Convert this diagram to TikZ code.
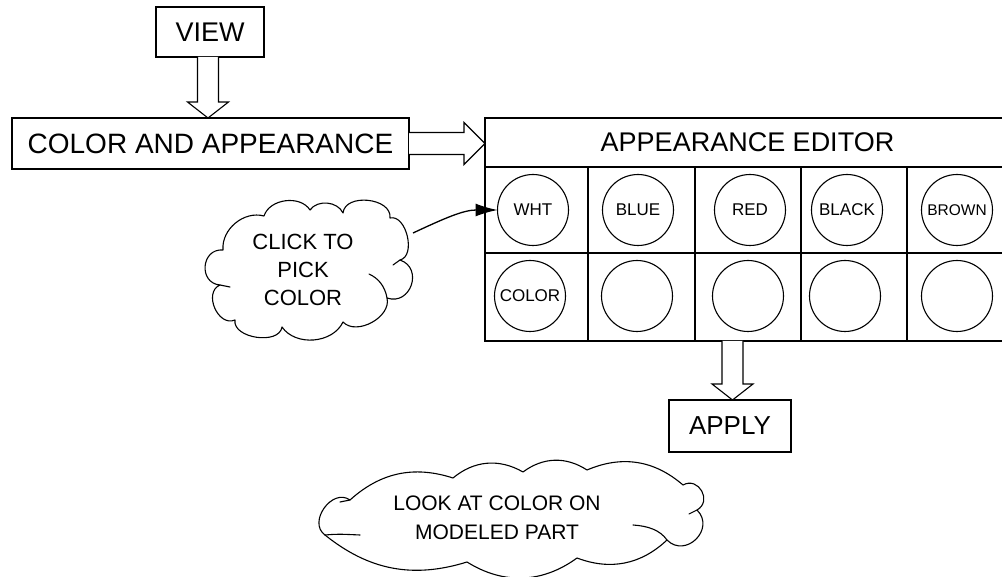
\documentclass[tikz,border=0pt]{standalone}
\usepackage{fontspec}
\setmainfont{Liberation Sans}
\usetikzlibrary{arrows.meta,calc}
\newcommand{\blkdown}[2]{%
  \draw[blk] let \p1=(#1), \p2=(#2) in
    (\x1-10.5pt,\y1) -- (\x1-10.5pt,\y2+16pt) -- (\x1-20.5pt,\y2+16pt) -- (\x1,\y2)
    -- (\x1+20.5pt,\y2+16pt) -- (\x1+10.5pt,\y2+16pt) -- (\x1+10.5pt,\y1);}
\newcommand{\blkright}[2]{%
  \draw[blk] let \p1=(#1), \p2=(#2) in
    (\x1,\y1+11pt) -- (\x2-21pt,\y1+11pt) -- (\x2-21pt,\y1+21pt) -- (\x2,\y1)
    -- (\x2-21pt,\y1-21pt) -- (\x2-21pt,\y1-11pt) -- (\x1,\y1-11pt);}
\begin{document}
\begin{tikzpicture}[x=1pt,y=-1pt,
  every node/.style={inner sep=0pt, outer sep=0pt},
  box/.style={draw, line width=1.2pt, rectangle},
  cell/.style={draw, line width=1.2pt, rectangle},
  swatch/.style={draw, line width=1.1pt, circle, minimum size=71pt, font=\fontsize{17}{17}\selectfont},
  blk/.style={draw, line width=1.1pt, fill=white, line join=miter},
  cloudline/.style={draw, line width=1.1pt, line join=round, line cap=round},
  big/.style={font=\fontsize{27}{27}\selectfont}
]
\useasboundingbox (0,0) rectangle (1002,577);
\clip (0,0) rectangle (1002,577);
\fill[white] (0,0) rectangle (1002,577);

% top boxes
\node[box, big, minimum width=108pt, minimum height=50pt] (view) at (210,32) {VIEW};
\node[box, font=\fontsize{28}{28}\selectfont, minimum width=397pt, minimum height=51pt] (cap) at (210.5,143.5) {COLOR AND APPEARANCE};

% appearance editor table
\node[cell, big, minimum width=525pt, minimum height=49pt] (ed) at (747.5,142.5) {APPEARANCE EDITOR};
\node[cell, minimum width=103pt, minimum height=86pt] (a1) at (536.5,210) {};
\node[cell, minimum width=107pt, minimum height=86pt] (a2) at (641.5,210) {};
\node[cell, minimum width=106pt, minimum height=86pt] (a3) at (748,210) {};
\node[cell, minimum width=106pt, minimum height=86pt] (a4) at (854,210) {};
\node[cell, minimum width=103pt, minimum height=86pt] (a5) at (958.5,210) {};
\node[cell, minimum width=103pt, minimum height=88pt] (b1) at (536.5,297) {};
\node[cell, minimum width=107pt, minimum height=88pt] (b2) at (641.5,297) {};
\node[cell, minimum width=106pt, minimum height=88pt] (b3) at (748,297) {};
\node[cell, minimum width=106pt, minimum height=88pt] (b4) at (854,297) {};
\node[cell, minimum width=103pt, minimum height=88pt] (b5) at (958.5,297) {};

\node[swatch] (wht) at (533,210) {WHT};
\node[swatch] (blue) at (638,210) {BLUE};
\node[swatch] (red) at (750,210) {RED};
\node[swatch] (black) at (847,210) {BLACK};
\node[swatch, font=\fontsize{15.5}{15.5}\selectfont] (brown) at (957,210) {BROWN};
\node[swatch] (col) at (530,296) {COLOR};
\node[swatch] (e2) at (637,296) {};
\node[swatch] (e3) at (748,296) {};
\node[swatch] (e4) at (845,296) {};
\node[swatch] (e5) at (957,296) {};

% apply
\node[box, font=\fontsize{26}{26}\selectfont, minimum width=122pt, minimum height=52pt] (apply) at (730,426) {APPLY};

% cloud 1: click to pick color
\draw[cloudline]
  (223,250) to[bend right=90, looseness=1.6] (220,285)
            to[bend right=90, looseness=1.25] (235,320)
            to[bend right=90, looseness=1.0] (282,327)
            to[bend right=60] (343,322)
            to[bend right=75] (387,298)
            to[bend right=90, looseness=1.6] (400,260)
            to[bend right=90, looseness=1.0] (390,218)
            to[bend right=90, looseness=1.1] (343,213)
            to[bend right=60] (310,210)
            to[bend right=65] (264,216)
            to[bend right=55] cycle;
\draw[cloudline] (387,298) .. controls (385,286) and (378,278) .. (369,274);
\draw[cloudline] (220,285) -- (230,287);
\draw[cloudline] (400,260) -- (393,265);
\node[font=\fontsize{22}{28}\selectfont, align=center] (c1) at (303,270) {CLICK TO\\PICK\\COLOR};
\coordinate (c1out) at (413,233);

% cloud 2: look at color on modeled part
\draw[cloudline]
  (350,500) to[bend left=30] (453,478)
            to[bend left=35] (523,472)
            to[bend left=35] (587,470)
            to[bend left=32] (683,485)
            to[bend left=90, looseness=1.6] (697,510)
            to[bend left=90, looseness=1.6] (667,540)
            to[bend left=32] (577,558)
            to[bend left=34] (467,562)
            to[bend left=28] (325,535)
            to[bend left=90, looseness=1.3] cycle;
\draw[cloudline] (350,500) -- (340,502);
\draw[cloudline] (325,535) .. controls (338,534) .. (360,535);
\draw[cloudline] (667,540) .. controls (660,530) and (648,526) .. (633,525);
\draw[cloudline] (697,510) -- (689,514);
\node[font=\fontsize{21}{29}\selectfont, align=center] (c2) at (497,518) {LOOK AT COLOR ON\\MODELED PART};

% block arrows
\blkdown{$(view.south)+(-2,0)$}{cap.north}
\blkright{cap.east}{ed.west}
\blkdown{$(apply.north |- b3.south)+(2.5,0)$}{apply.north}

% pointer arrow
\draw[line width=1.3pt, -{Latex[length=22pt,width=13pt]}] (c1out) to[out=25,in=180] (wht.west);
\end{tikzpicture}
\end{document}
